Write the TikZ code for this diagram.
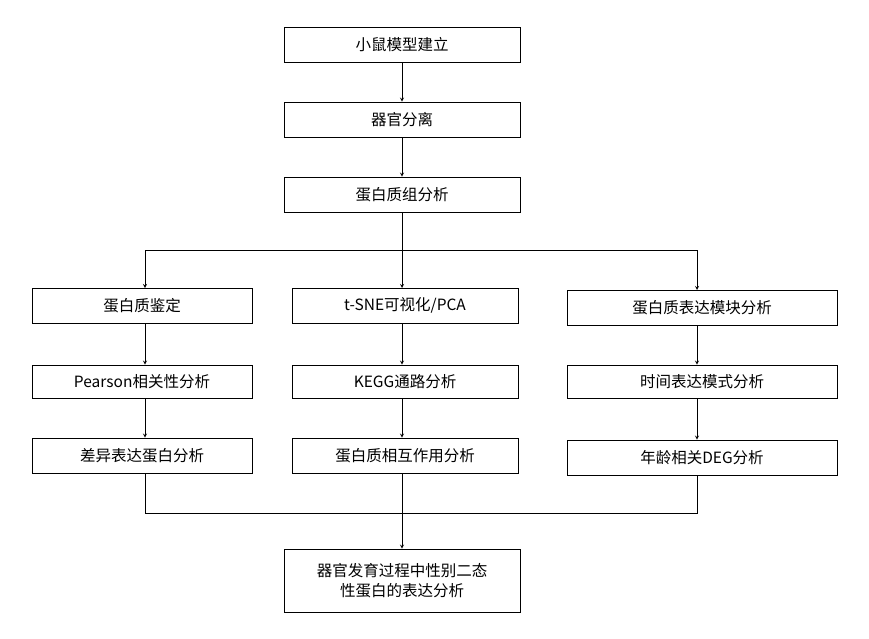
\documentclass[tikz,border=0pt]{standalone}
\usepackage{fontspec}
\setmainfont{Noto Sans CJK SC}
\usetikzlibrary{positioning}
\tikzset{boite/.style={draw,thick,align=center,font=\fontsize{15.5}{20}\selectfont},
fleche/.style={thick,->,>=stealth}}
\begin{document}
\begin{tikzpicture}[x=1pt,y=-1pt]
\useasboundingbox (0,0) rectangle (869,638);
% ligne centrale
\node[boite,minimum width=236,minimum height=35] (modele) at (402,44.5) {小鼠模型建立};
\node[boite,minimum width=236,minimum height=35] (organe) at (402,119.5) {器官分离};
\node[boite,minimum width=236,minimum height=35] (proteome) at (402,194.5) {蛋白质组分析};
% colonne gauche
\node[boite,minimum width=220,minimum height=35] (ident) at (142,305.5) {蛋白质鉴定};
\node[boite,minimum width=220,minimum height=33] (pearson) at (142,381.5) {Pearson相关性分析};
\node[boite,minimum width=220,minimum height=35] (diff) at (142,455.5) {差异表达蛋白分析};
% colonne du milieu
\node[boite,minimum width=226,minimum height=35] (tsne) at (405,305.5) {t-SNE可视化/PCA};
\node[boite,minimum width=226,minimum height=33] (kegg) at (405,381.5) {KEGG通路分析};
\node[boite,minimum width=226,minimum height=35] (inter) at (405,455.5) {蛋白质相互作用分析};
% colonne droite
\node[boite,minimum width=270,minimum height=35] (module) at (702,307.5) {蛋白质表达模块分析};
\node[boite,minimum width=270,minimum height=33] (temps) at (702,381.5) {时间表达模式分析};
\node[boite,minimum width=270,minimum height=35] (age) at (702,457.5) {年龄相关DEG分析};
% bas
\node[boite,minimum width=236,minimum height=63] (sexe) at (402,580.5) {器官发育过程中性别二态\\性蛋白的表达分析};
\coordinate (haut) at (402,250);
\coordinate (bas) at (402,513);
\draw[fleche] (modele) -- (organe);
\draw[fleche] (organe) -- (proteome);
\draw[thick] (proteome) -- (haut);
\draw[thick] (145,250) -- (697,250);
\draw[fleche] (145,250) -- (145,288);
\draw[fleche] (402,250) -- (402,288);
\draw[fleche] (697,250) -- (697,290);
\draw[fleche] (ident.south -| 145,0) -- (pearson.north -| 145,0);
\draw[fleche] (pearson.south -| 145,0) -- (diff.north -| 145,0);
\draw[fleche] (tsne.south -| 402,0) -- (kegg.north -| 402,0);
\draw[fleche] (kegg.south -| 402,0) -- (inter.north -| 402,0);
\draw[fleche] (module.south -| 697,0) -- (temps.north -| 697,0);
\draw[fleche] (temps.south -| 697,0) -- (age.north -| 697,0);
\draw[thick] (diff.south -| 145,0) -- (145,513) -- (697,513) -- (age.south -| 697,0);
\draw[thick] (inter.south -| 402,0) -- (bas);
\draw[fleche] (bas) -- (sexe);
\end{tikzpicture}
\end{document}
